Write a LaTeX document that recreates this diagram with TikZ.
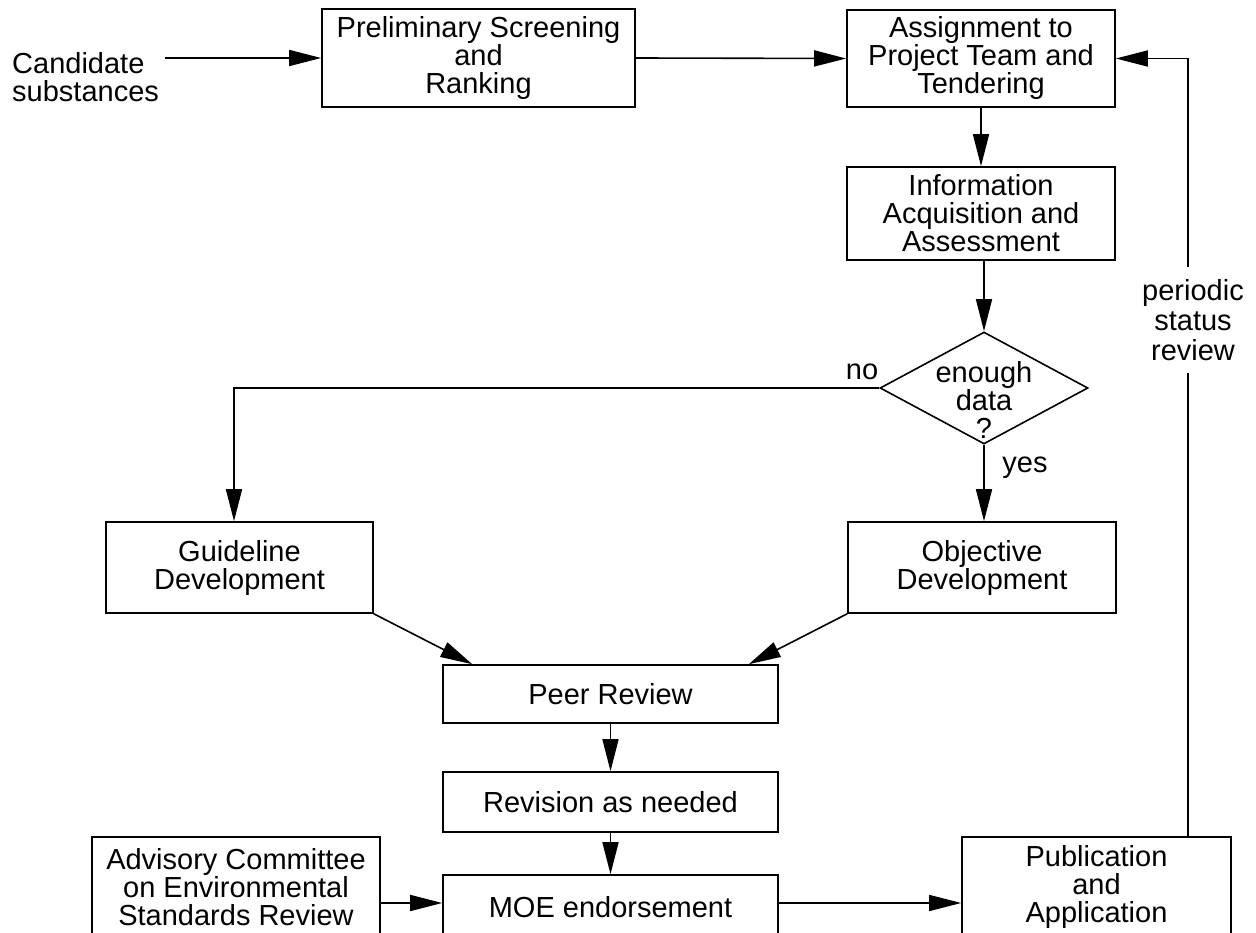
\documentclass[tikz,border=0pt]{standalone}
\usepackage{fontspec}
\setmainfont{Liberation Sans}
\usetikzlibrary{arrows.meta,shapes.geometric}
\begin{document}
\begin{tikzpicture}[x=1pt,y=-1pt,
  every node/.style={font=\fontsize{29}{28}\selectfont, inner sep=0pt, align=center},
  box/.style={draw, line width=1.6pt, execute at begin node={\vspace*{7pt}}},
  conn/.style={line width=1.6pt, -{Triangle[length=32pt,width=16pt]}},
  plainline/.style={line width=1.6pt}]
\useasboundingbox (0,0) rectangle (1256,933);

\node[anchor=west, align=left] (cand) at (12,77.5) {Candidate\\substances};
\node[box, minimum width=313, minimum height=98] (prelim) at (478.5,58) {Preliminary Screening\\and\\Ranking};
\node[box, minimum width=268, minimum height=97] (assign) at (981,58.5) {Assignment to\\Project Team and\\Tendering};
\node[box, minimum width=268, minimum height=93] (info) at (981,213.5) {Information\\Acquisition and\\Assessment};
\node[diamond, draw, line width=1.6pt, minimum width=208, minimum height=112] (dec) at (984,388) {};
\node (dectext) at (984,400) {enough\\data\\?};
\node (nolbl) at (862,372) {no};
\node (yeslbl) at (1025,468) {yes};
\node[box, minimum width=267, minimum height=91] (guide) at (239.5,567.5) {Guideline\\Development};
\node[box, minimum width=268, minimum height=91] (obj) at (982,567.5) {Objective\\Development};
\node[box, minimum width=335, minimum height=58] (peer) at (610.5,694) {Peer Review};
\node[box, minimum width=335, minimum height=60] (rev) at (610.5,802) {Revision as needed};
\node[box, minimum width=335, minimum height=65] (moe) at (610.5,907.5) {MOE endorsement};
\node[box, minimum width=288, minimum height=100] (adv) at (236,887) {Advisory Committee\\on Environmental\\Standards Review};
\node[box, minimum width=269, minimum height=100] (pub) at (1096.5,887) {Publication\\and\\Application};

% connectors
\coordinate (candout) at ([xshift=6pt]cand.east);
\draw[conn] (candout |- prelim.west) -- (prelim.west);
\draw[conn] (prelim.east) -- (assign.west);
\draw[conn] (assign.south) -- (info.north);
\draw[conn] (info.south -| dec.north) -- (dec.north);
\draw[conn] (dec.south) -- (dec.south |- obj.north);
\coordinate (nocorner) at (234,388);
\draw[conn] (dec.west) -- (nocorner) -- (nocorner |- guide.north);
\draw[conn] (guide.south east) -- ([xshift=30pt]peer.north west);
\draw[conn] (obj.south west) -- ([xshift=-30pt]peer.north east);
\draw[conn] (peer.south) -- (rev.north);
\draw[conn] (rev.south) -- (moe.north);
\draw[conn] ([yshift=-16pt]adv.east) -- ([yshift=-16pt]adv.east -| moe.west);
\draw[conn] ([yshift=4.5pt]moe.east) -- ([yshift=4.5pt]moe.east -| pub.west);
\coordinate (loopc) at (1188,58.5);
\draw[conn] ([xshift=91.5pt]pub.north) -- (loopc) -- (assign.east);
\node[fill=white, inner xsep=3pt, inner ysep=12pt, font=\fontsize{29}{30}\selectfont] (periodic) at (1193,320) {periodic\\status\\review};
\end{tikzpicture}
\end{document}
